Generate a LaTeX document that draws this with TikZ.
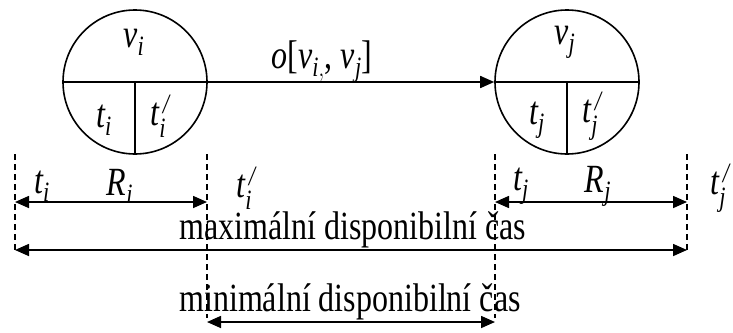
\documentclass[tikz,border=0pt]{standalone}
\usepackage{amsmath}
\usepackage{fontspec}
\setmainfont{Liberation Serif}
\usetikzlibrary{arrows.meta}
\newcommand\tall[1]{\scalebox{1}[1.25]{#1}}
\newcommand\mysub[2]{\tall{$\textit{#1}_{\textit{#2}}$}}
\newcommand\mysubp[2]{\tall{$\textit{#1}_{\textit{#2}}^{\,\textit{/}}$}}
\begin{document}
\begin{tikzpicture}[x=1pt,y=-1pt,
  line width=1.6pt,
  every node/.style={font=\fontsize{32}{38}\selectfont, inner sep=0pt},
  vertex/.style={circle, draw, minimum size=144pt, inner sep=0pt},
  guide/.style={dashed, line width=1.1pt, dash pattern=on 6pt off 4pt},
  dim/.style={{Triangle[length=14pt,width=12pt]}-{Triangle[length=14pt,width=12pt]}},
  edgearrow/.style={-{Triangle[length=14pt,width=12pt]}}]
\useasboundingbox (0,0) rectangle (733,332);

% vertices
\node[vertex] (ci) at (135,82) {};
\node[vertex] (cj) at (567,82) {};
\draw (ci.west) -- (ci.east);
\draw (ci.center) -- (ci.south);
\draw (cj.west) -- (cj.east);
\draw (cj.center) -- (cj.south);

\node (vi) at (134,42) {\mysub{v}{i}};
\node (ti) at (104,120) {\mysub{t}{i}};
\node (tpi) at (160,116) {\mysubp{t}{i}};
\node (vj) at (565,42) {\mysub{v}{j}};
\node (tj) at (537,120) {\mysub{t}{j}};
\node (tpj) at (592,116) {\mysubp{t}{j}};

% edge
\draw[edgearrow] (ci.east) -- (cj.west);
\node (elbl) at (322,62) {\tall{$\textit{o}\text{[}\textit{v}_{\textit{i},}\text{, }\textit{v}_{\textit{j}}\text{]}$}};

% guide coordinates
\coordinate (g1t) at (15,154);
\coordinate (g1b) at (15,252);
\coordinate (g2t) at (207,154);
\coordinate (g2b) at (207,318);
\coordinate (g3t) at (495,154);
\coordinate (g3b) at (495,318);
\coordinate (g4t) at (687,154);
\coordinate (g4b) at (687,252);
\draw[guide] (g1t) -- (g1b);
\draw[guide] (g2t) -- (g2b);
\draw[guide] (g3t) -- (g3b);
\draw[guide] (g4t) -- (g4b);

% dimension arrows
\coordinate (ri1) at (15,202);
\coordinate (ri2) at (207,202);
\coordinate (rj1) at (495,202);
\coordinate (rj2) at (687,202);
\coordinate (mx1) at (15,250);
\coordinate (mx2) at (687,250);
\coordinate (mn1) at (207,322);
\coordinate (mn2) at (495,322);
\draw[dim] (ri1) -- (ri2);
\draw[dim] (rj1) -- (rj2);
\draw[dim] (mx1) -- (mx2);
\draw[dim] (mn1) -- (mn2);

% labels
\node (lti) at (42,186) {\mysub{t}{i}};
\node (lri) at (120,186) {\mysub{R}{i}};
\node (ltpi) at (246,188) {\mysubp{t}{i}};
\node (ltj) at (521,186) {\mysub{t}{j}};
\node (lrj) at (598,186) {\mysub{R}{j}};
\node (ltpj) at (720,188) {\mysubp{t}{j}};
\node (maxl) at (353,230) {\tall{maximální disponibilní čas}};
\node (minl) at (350,302) {\tall{minimální disponibilní čas}};
\end{tikzpicture}
\end{document}
